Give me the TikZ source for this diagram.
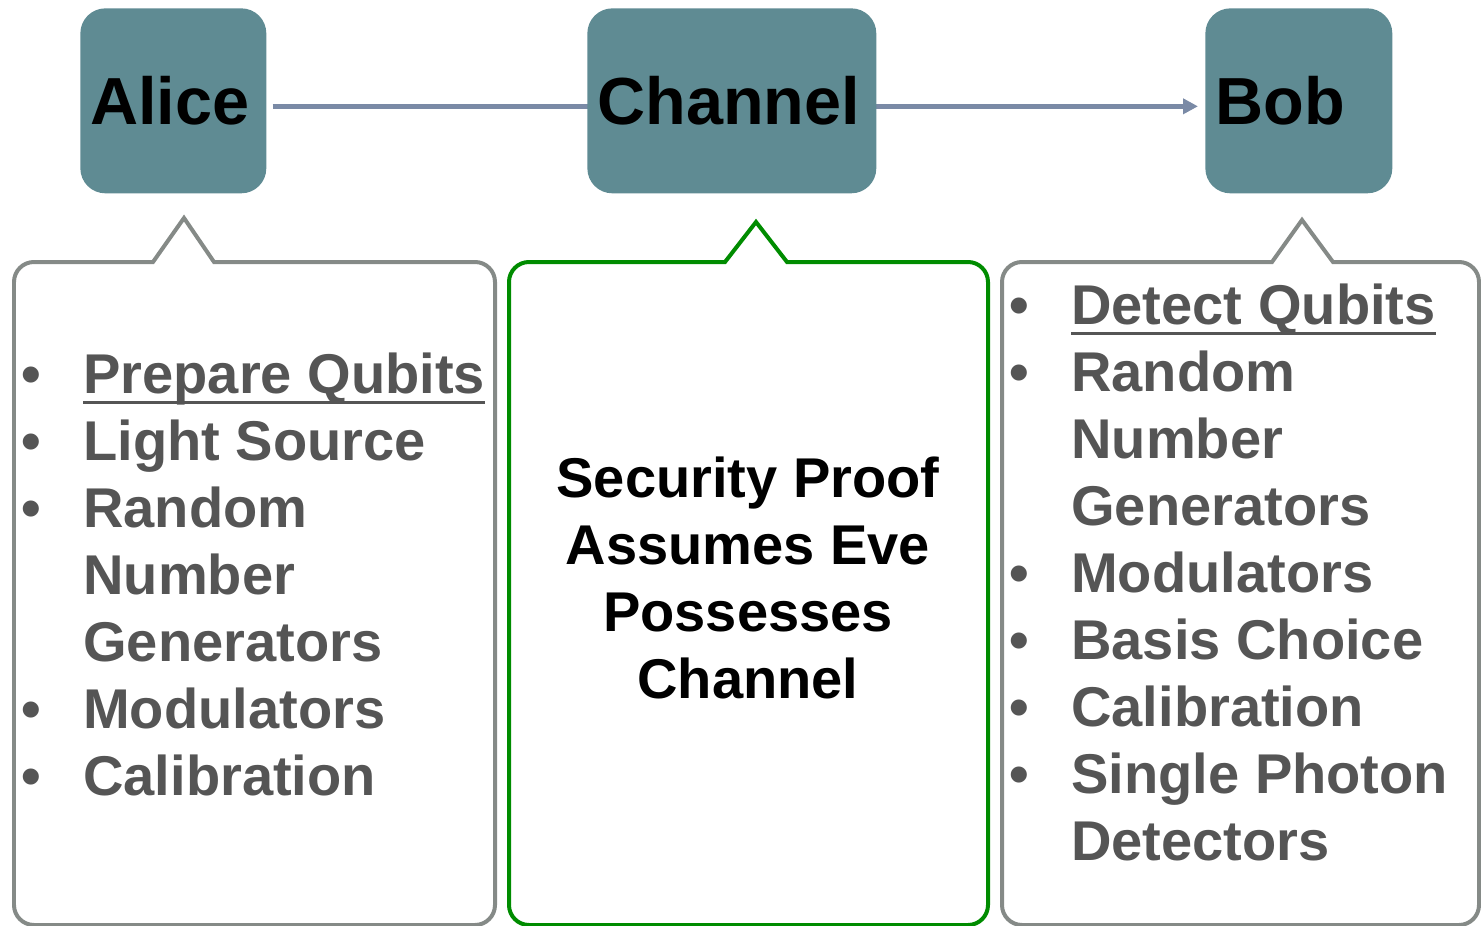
\documentclass[tikz,border=0pt]{standalone}
\usepackage{fontspec}
\setmainfont{Liberation Sans}
\usetikzlibrary{arrows.meta,positioning}
\definecolor{boxteal}{HTML}{5F8B93}
\definecolor{flowgray}{HTML}{7A8AA6}
\definecolor{calloutgray}{HTML}{858A87}
\definecolor{proofgreen}{HTML}{008C00}
\definecolor{listgray}{HTML}{555555}
\newcommand{\qubitline}[1]{{\setbox0\hbox{#1}\rlap{\rule[-6.5pt]{\wd0}{1.7pt}}\box0}}

\begin{document}
\begin{tikzpicture}[x=0.02cm, y=-0.02cm,
    party/.style={fill=boxteal, rounded corners=0.5cm, anchor=north west,
        minimum height=3.7cm, inner xsep=0.2cm, inner ysep=0pt, align=left,
        font=\fontsize{37.9}{44}\selectfont\bfseries},
    flow/.style={flowgray, line width=0.09cm, -{Triangle[length=0.3cm, width=0.3cm]},
        shorten <=0.12cm, shorten >=0.14cm},
    callout/.style={line width=0.08cm, line join=miter},
    listtext/.style={inner sep=0pt, anchor=base west, text=listgray,
        font=\fontsize{31.9}{38.2}\selectfont\bfseries}]
    \useasboundingbox (0,0) rectangle (1481,926);

    \node[party, text width=3.32cm] (alice) at (80,8) {Alice};
    \node[party, text width=3.34cm] (bob) at (1205,8) {Bob};
    \draw[flow] ([yshift=-0.11cm]alice.east) -- ([yshift=-0.11cm]bob.west);
    \node[party, text width=5.38cm] (channel) at (587,8) {Channel};

    \draw[callout, calloutgray] (184,218) -- (214,262) [rounded corners=0.4cm] -- (495,262)
        -- (495,925) -- (14,925) -- (14,262) [sharp corners] -- (153,262) -- cycle;
    \draw[callout, proofgreen] (756,222) -- (787,262) [rounded corners=0.4cm] -- (988,262)
        -- (988,925) -- (509,925) -- (509,262) [sharp corners] -- (725,262) -- cycle;
    \draw[callout, calloutgray] (1302,220) -- (1333,262) [rounded corners=0.4cm] -- (1479,262)
        -- (1479,925) -- (1002,925) -- (1002,262) [sharp corners] -- (1272,262) -- cycle;

    \node[listtext] (alicelist) at (21,393) {\begin{tabular}[t]{@{}p{1.24cm}@{}l@{}}
        \textbullet & \qubitline{Prepare Qubits}\\
        \textbullet & Light Source\\
        \textbullet & Random\\
        & Number\\
        & Generators\\
        \textbullet & Modulators\\
        \textbullet & Calibration
    \end{tabular}};
    \node[align=center, font=\fontsize{31.9}{38.2}\selectfont\bfseries] (proof) at (748,578)
        {Security Proof\\Assumes Eve\\Possesses\\Channel};
    \node[listtext] (boblist) at (1009,324) {\begin{tabular}[t]{@{}p{1.24cm}@{}l@{}}
        \textbullet & \qubitline{Detect Qubits}\\
        \textbullet & Random\\
        & Number\\
        & Generators\\
        \textbullet & Modulators\\
        \textbullet & Basis Choice\\
        \textbullet & Calibration\\
        \textbullet & Single Photon\\
        & Detectors
    \end{tabular}};
\end{tikzpicture}
\end{document}
